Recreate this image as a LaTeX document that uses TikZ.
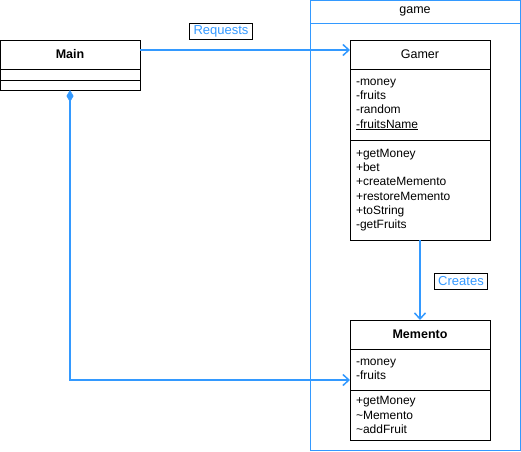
\documentclass[tikz,border=0pt]{standalone}
\usepackage{fontspec}
\setmainfont{Liberation Sans}
\usetikzlibrary{arrows.meta}
\definecolor{lblue}{HTML}{3399FF}
\begin{document}
\begin{tikzpicture}[x=1pt,y=-1pt,
  comp/.style={draw=black,line width=1pt,minimum width=140pt,inner sep=0pt,outer sep=0pt,anchor=north west},
  ttl/.style={comp,font=\fontsize{12.5}{14}\selectfont,minimum height=29pt},
  lst/.style={comp,align=left,text width=128pt,inner xsep=6pt,font=\fontsize{12}{14.3}\selectfont},
  pkg/.style={draw=lblue,line width=1pt,minimum width=210pt,inner sep=0pt,outer sep=0pt,anchor=north west},
  arr/.style={draw=lblue,line width=2pt,-{Straight Barb[length=6pt,width=11pt,line width=1.5pt]}},
  lbl/.style={draw=black,line width=0.8pt,text=lblue,font=\fontsize{13}{14}\selectfont,inner xsep=4pt,inner ysep=0pt,minimum height=16pt,fill=white}
]
\useasboundingbox (0,0) rectangle (521,451);
% package
\node[pkg,minimum height=23pt,font=\fontsize{12.5}{14}\selectfont] (pkgT) at (310,0) {game};
\node[pkg,minimum height=427pt] (pkgB) at (310,23) {};
% Main
\node[ttl,font=\bfseries\fontsize{12.5}{14}\selectfont] (mainT) at (0,40) {Main};
\node[comp,minimum height=11pt] (mainA) at (0,69) {};
\node[comp,minimum height=10pt] (mainM) at (0,80) {};
% Gamer
\node[ttl] (gamerT) at (350,40) {Gamer};
\node[lst,minimum height=71pt] (gamerA) at (350,69) {-money\\-fruits\\-random\\\underline{-fruitsName}};
\node[lst,minimum height=100pt] (gamerM) at (350,140) {+getMoney\\+bet\\+createMemento\\+restoreMemento\\+toString\\-getFruits};
% Memento
\node[ttl,font=\bfseries\fontsize{12.5}{14}\selectfont] (memT) at (350,320) {Memento};
\node[lst,minimum height=41pt] (memA) at (350,349) {-money\\-fruits};
\node[lst,minimum height=50pt] (memM) at (350,390) {+getMoney\\\textasciitilde Memento\\\textasciitilde addFruit};
% connectors
\draw[arr] ([yshift=4.5pt]mainT.east) -- ([yshift=4.5pt]gamerT.west);
\draw[arr] (gamerM.south) -- (memT.north);
\draw[arr,{Diamond[length=12pt,width=7pt,fill=lblue,line width=0.5pt]}-{Straight Barb[length=6pt,width=11pt,line width=1.5pt]}] (mainM.south) |- ([yshift=-10.5pt]memA.west);
% labels
\node[lbl] (req) at (221,31) {Requests};
\node[lbl] (cre) at (461,281) {Creates};
\end{tikzpicture}
\end{document}
